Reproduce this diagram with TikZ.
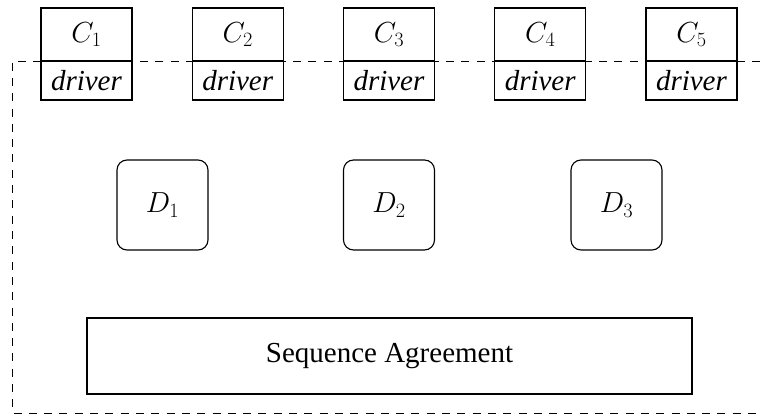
\RequirePackage{fix-cm}
\documentclass[tikz,border=0pt]{standalone}
\usepackage[no-math]{fontspec}
\setmainfont{Liberation Serif}
\begin{document}
\begin{tikzpicture}[x=1pt,y=-1pt,
  base/.style={draw, line width=1.1pt, inner sep=0pt, font=\fontsize{29}{34}\selectfont},
  cbox/.style={base, minimum width=91pt, minimum height=53pt},
  drvbox/.style={base, minimum width=91pt, minimum height=39pt},
  rbox/.style={base, rounded corners=10pt, minimum width=91pt, minimum height=90pt},
  seqbox/.style={base, minimum width=605pt, minimum height=76pt},
  frame/.style={line width=0.9pt, dash pattern=on 8pt off 7.3pt}]
\useasboundingbox (0,0) rectangle (760,414);
\foreach \i in {1,...,5}{
  \pgfmathsetmacro{\cx}{86.5+151.25*(\i-1)}
  \node[cbox] (c\i) at (\cx,34.5) {$C_{\i}$};
  \node[drvbox] (d\i) at (\cx,80.5) {\textit{driver}};
}
\node[rbox] (D1) at (162.5,205) {$D_1$};
\node[rbox] (D2) at (389,205) {$D_2$};
\node[rbox] (D3) at (616.5,205) {$D_3$};
\node[seqbox] (seq) at (389.5,356) {Sequence Agreement};
\coordinate (tr) at (760,61);
\coordinate (tl) at (12,61);
\coordinate (bl) at (12,413);
\coordinate (br) at (760,413);
\draw[frame] (tr) -- (tl) -- (bl) -- (br);
\end{tikzpicture}
\end{document}
